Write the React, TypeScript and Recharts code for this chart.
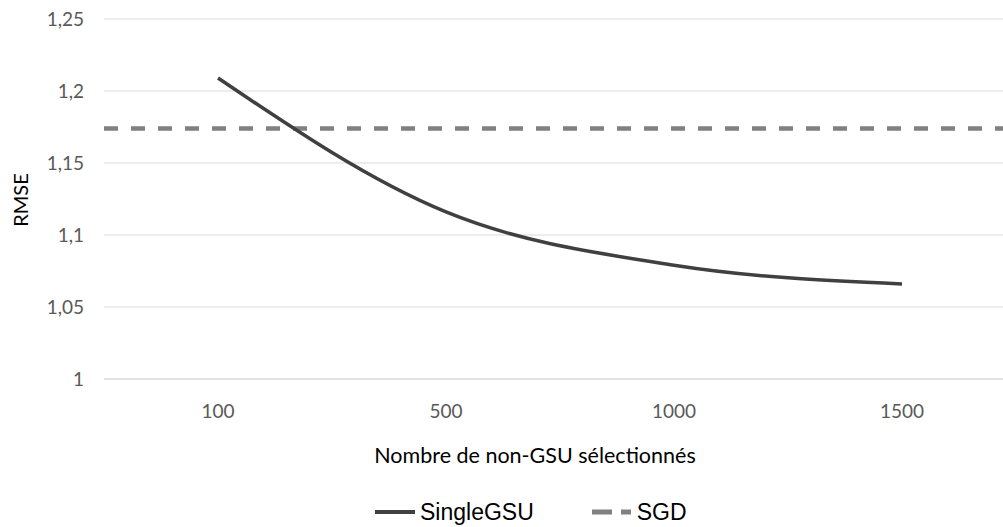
import { LineChart, Line, XAxis, YAxis, CartesianGrid, ReferenceLine, Legend, Label } from 'recharts';

const categories = ['100', '500', '1000', '1500'];
const singleGsu = [1.209, 1.116, 1.079, 1.066];
const sgdValue = 1.174;
const yTicks = [1, 1.05, 1.1, 1.15, 1.2, 1.25];

const data = categories.map((c, i) => ({ name: c, SingleGSU: singleGsu[i] }));

const FONT = "Lato, 'Open Sans', sans-serif";
const LEGEND_FONT = "'Liberation Sans', Arial, sans-serif";

function XTitle(props: any) {
  const { viewBox } = props;
  return (
    <text x={viewBox.x + viewBox.width / 2 - 25} y={455} textAnchor="middle" dominantBaseline="central"
      fontFamily={FONT} fontSize={21.5} fill="#000">
      Nombre de non-GSU sélectionnés
    </text>
  );
}

function YTitle(props: any) {
  const { viewBox } = props;
  const cy = viewBox.y + viewBox.height / 2 + 1;
  return (
    <text x={20} y={cy} transform={`rotate(-90, 20, ${cy})`} textAnchor="middle" dominantBaseline="central"
      fontFamily={FONT} fontSize={20} fill="#000">
      RMSE
    </text>
  );
}

function ChartLegend() {
  return (
    <div style={{ display: 'flex', alignItems: 'center', fontFamily: LEGEND_FONT, fontSize: 23, color: '#000', lineHeight: '26px' }}>
      <svg width={40} height={10} style={{ marginRight: 5 }}>
        <line x1={0} y1={5} x2={40} y2={5} stroke="#404040" strokeWidth={4} />
      </svg>
      <span>SingleGSU</span>
      <svg width={39} height={10} style={{ marginLeft: 58, marginRight: 6 }}>
        <line x1={0} y1={5} x2={39} y2={5} stroke="#808080" strokeWidth={5} strokeDasharray="20 9" />
      </svg>
      <span>SGD</span>
    </div>
  );
}

export default function App() {
  return (
    <div style={{ position: 'absolute', left: 0, top: 0, width: 1003, height: 527, overflow: 'hidden', background: '#fff' }}>
      <LineChart width={1040} height={527} data={data} margin={{ top: 19, right: 24, left: 0, bottom: 0 }}>
        <CartesianGrid vertical={false} stroke="#d9d9d9" />
        <XAxis
          dataKey="name"
          height={122}
          padding={{ left: 114, right: 114 }}
          axisLine={{ stroke: '#d9d9d9' }}
          tickLine={false}
          tickMargin={20}
          tick={{ fill: '#595959', fontSize: 19, fontFamily: FONT }}
        >
          <Label content={<XTitle />} />
        </XAxis>
        <YAxis
          width={104}
          domain={[1, 1.25]}
          ticks={yTicks}
          interval={0}
          axisLine={false}
          tickLine={false}
          tickMargin={14}
          tickFormatter={(v: number) => String(v).replace('.', ',')}
          tick={{ fill: '#595959', fontSize: 19, fontFamily: FONT }}
        >
          <Label content={<YTitle />} />
        </YAxis>
        <ReferenceLine y={sgdValue} stroke="#808080" strokeWidth={4.5} strokeDasharray="14 13" />
        <Line
          type="monotone"
          dataKey="SingleGSU"
          stroke="#404040"
          strokeWidth={3.5}
          dot={false}
          activeDot={false}
          isAnimationActive={false}
        />
        <Legend content={<ChartLegend />} wrapperStyle={{ position: 'absolute', left: 375, top: 499, width: 'auto' }} />
      </LineChart>
    </div>
  );
}
